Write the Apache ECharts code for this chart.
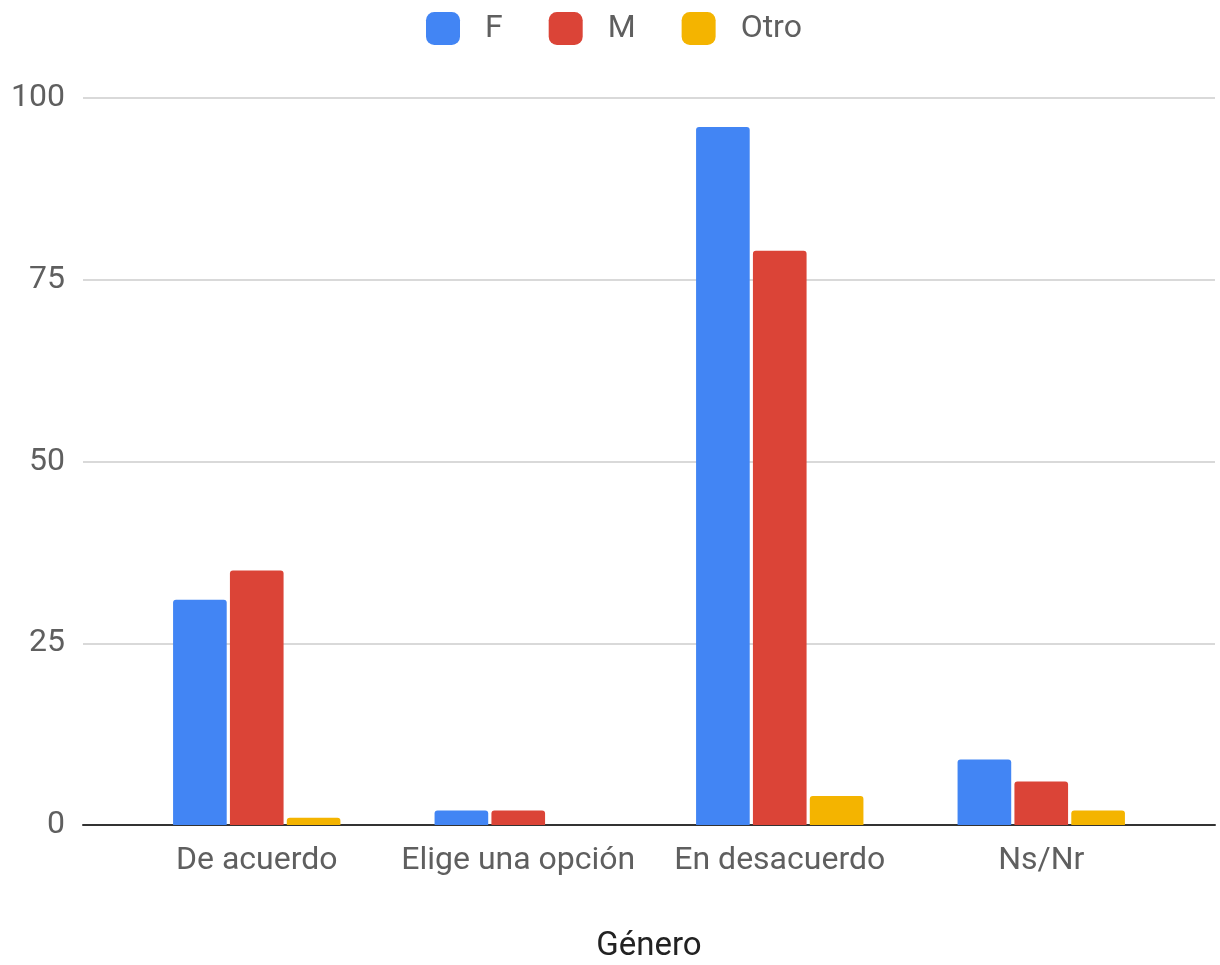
<!DOCTYPE html>
<html><head><meta charset="utf-8">
<script src="https://cdn.jsdelivr.net/npm/echarts@6/dist/echarts.min.js"></script>
<style>html,body{margin:0;padding:0;background:#fff}#c{width:1220px;height:965px}</style>
</head><body><div id="c"></div>
<script>
const categories = ['De acuerdo', 'Elige una opción', 'En desacuerdo', 'Ns/Nr'];
const seriesNames = ['F', 'M', 'Otro'];
const valuesF = [31, 2, 96, 9];
const valuesM = [35, 2, 79, 6];
const valuesOtro = [1, 0, 4, 2];
const yTicks = [0, 25, 50, 75, 100];
const colors = ['#4285F4', '#DB4437', '#F4B400'];

const chart = echarts.init(document.getElementById('c'));
const font = 'Roboto';
const mk = (name, data, i) => ({
  name, type: 'bar', data, xAxisIndex: 1, yAxisIndex: 1,
  itemStyle: { color: colors[i], borderRadius: [3, 3, 0, 0] },
  barGap: '6%', barCategoryGap: '36%'
});
chart.setOption({
  animation: false,
  textStyle: { fontFamily: font },
  legend: {
    top: 7, left: 421, itemWidth: 34, itemHeight: 33, itemGap: 46,
    icon: 'roundRect',
    textStyle: { fontSize: 32, color: '#5f5f5f', padding: [0, 0, 0, 20], fontFamily: font },
    data: seriesNames
  },
  grid: [
    { left: 83, right: 5, top: 98, bottom: 140, outerBoundsMode: 'none', containLabel: false },
    { left: 126, right: 48, top: 98, bottom: 140, outerBoundsMode: 'none', containLabel: false }
  ],
  xAxis: [
    { type: 'category', gridIndex: 0, data: [''], axisLine: { lineStyle: { color: '#333', width: 2 } },
      axisTick: { show: false }, axisLabel: { show: false },
      name: 'Género', nameLocation: 'middle', nameGap: 105,
      nameTextStyle: { fontSize: 33, color: '#222', fontFamily: font } },
    { type: 'category', gridIndex: 1, data: categories, axisLine: { show: false }, axisTick: { show: false },
      axisLabel: { fontSize: 32, color: '#5f5f5f', margin: 20, fontFamily: font, interval: 0 } }
  ],
  yAxis: [
    { type: 'value', gridIndex: 0, min: yTicks[0], max: yTicks[yTicks.length - 1], interval: 25,
      axisLine: { show: false }, axisTick: { show: false },
      splitLine: { lineStyle: { color: '#ccc', width: 1.5 } },
      axisLabel: { fontSize: 32, color: '#5f5f5f', margin: 18, fontFamily: font } },
    { type: 'value', gridIndex: 1, min: 0, max: 100, interval: 25, show: false, splitLine: { show: false } }
  ],
  series: [mk('F', valuesF, 0), mk('M', valuesM, 1), mk('Otro', valuesOtro, 2)]
});
</script></body></html>
